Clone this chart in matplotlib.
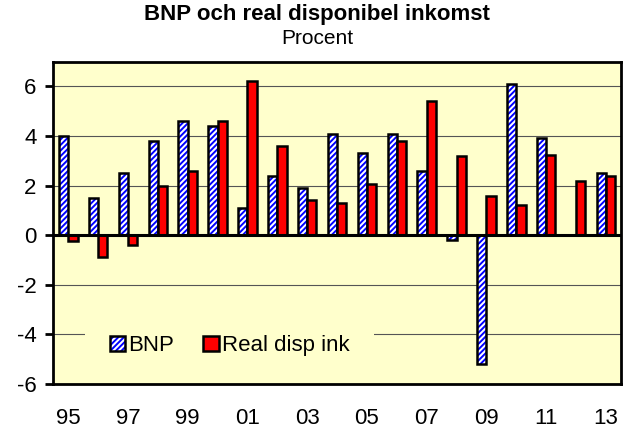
import numpy as np
import matplotlib.pyplot as plt
from matplotlib.legend_handler import HandlerTuple

plt.rcParams['font.family'] = ['Liberation Sans', 'DejaVu Sans']
plt.rcParams['axes.unicode_minus'] = False
plt.rcParams['hatch.linewidth'] = 1.4

years = ['95', '96', '97', '98', '99', '00', '01', '02', '03', '04',
         '05', '06', '07', '08', '09', '10', '11', '12', '13']
bnp = [4.0, 1.5, 2.5, 3.8, 4.6, 4.4, 1.1, 2.4, 1.9, 4.1,
       3.3, 4.1, 2.6, -0.2, -5.2, 6.1, 3.9, 0.0, 2.5]
real_disp = [-0.25, -0.9, -0.4, 2.0, 2.6, 4.6, 6.2, 3.6, 1.4, 1.3,
             2.05, 3.8, 5.4, 3.2, 1.6, 1.2, 3.25, 2.2, 2.4]
bg = '#FFFFCC'

fig = plt.figure(figsize=(6.31, 4.28), dpi=100)
ax = fig.add_axes([0.0845, 0.103, 0.8995, 0.753])
ax.set_facecolor(bg)

x = np.arange(len(years))
w = 0.31
b1 = ax.bar(x - w / 2, bnp, w, color='white', edgecolor='#0000FF',
            hatch='//////', linewidth=0, zorder=3)
b2 = ax.bar(x - w / 2, bnp, w, fill=False, edgecolor='black',
            linewidth=1.8, zorder=4)
# 2012 has no BNP value in the chart
b1[17].set_visible(False)
b2[17].set_visible(False)
r = ax.bar(x + w / 2, real_disp, w, color='#FF0000', edgecolor='black',
           linewidth=1.8, zorder=4)

ax.set_xlim(-0.5, len(years) - 0.5)
ax.set_ylim(-6, 7)
ax.set_yticks([-6, -4, -2, 0, 2, 4, 6])
ax.set_xticks(x[::2])
ax.set_xticklabels(years[::2])
ax.tick_params(axis='y', length=6, width=2, labelsize=16, pad=6)
ax.tick_params(axis='x', length=0, labelsize=16, pad=17)
for yv in [-4, -2, 2, 4, 6]:
    ax.axhline(yv, color='#555555', linewidth=0.8, zorder=1)
ax.axhline(0, color='black', linewidth=2.2, zorder=5)
for s in ax.spines.values():
    s.set_linewidth(2)

leg = ax.legend([(b1[0], b2[0]), r], ['BNP', 'Real disp ink'],
                handler_map={tuple: HandlerTuple(ndivide=1)},
                loc='center left', bbox_to_anchor=(0.056, 0.118),
                ncol=2, fontsize=16, frameon=True, fancybox=False,
                handlelength=0.7, handleheight=0.7, handletextpad=0.15,
                columnspacing=1.3, borderpad=1.1, borderaxespad=0)
leg.get_frame().set_facecolor(bg)
leg.get_frame().set_edgecolor('none')
leg.get_frame().set_alpha(1)
leg.set_zorder(6)

fig.text(0.503, 0.953, 'BNP och real disponibel inkomst', ha='center',
         fontsize=16, fontweight='bold')
fig.text(0.503, 0.898, 'Procent', ha='center', fontsize=15)

fig.savefig('out.png', dpi=100)
